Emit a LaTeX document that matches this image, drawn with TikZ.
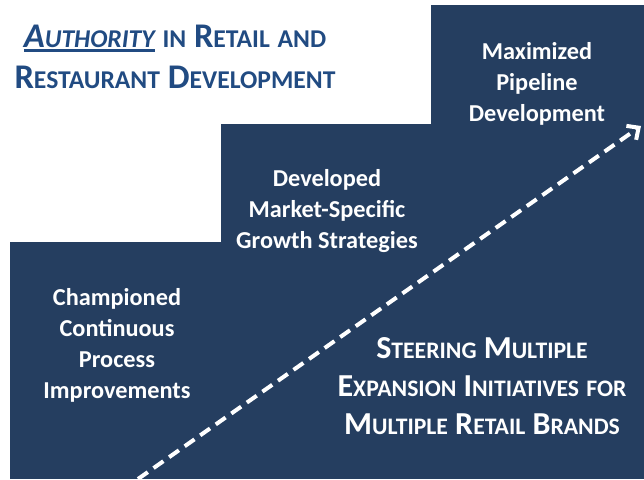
\documentclass[tikz,border=0pt]{standalone}
\usepackage{fontspec}
\setmainfont{Carlito}
\usetikzlibrary{arrows.meta}
\definecolor{stepblue}{RGB}{37,62,96}
\definecolor{titleblue}{RGB}{33,75,130}

% small caps by hand: capitals at about three quarters of the running size
\makeatletter
\newcommand{\smc}[1]{{\fontsize{\fpeval{0.74*\f@size}}{\f@baselineskip}\selectfont #1}}
\makeatother
\newsavebox{\ulbox}
\newcommand{\thickul}[1]{\sbox{\ulbox}{#1}\rlap{\rule[-4pt]{\wd\ulbox}{2.5pt}}\usebox{\ulbox}}

\begin{document}
\begin{tikzpicture}[x=1pt,y=1pt,
  stepbox/.style={fill=stepblue},
  steptext/.style={text=white,align=center,font=\bfseries\fontsize{24.3}{31}\selectfont},
  bigtext/.style={text=white,align=center,font=\bfseries\fontsize{32}{38}\selectfont},
  heading/.style={text=titleblue,align=center,font=\bfseries\fontsize{34.6}{41}\selectfont},
  growth/.style={white,line width=4pt,dash pattern=on 12pt off 7pt,
    -{Straight Barb[length=9pt,width=17pt,line width=4pt]}}]

  \useasboundingbox[fill=white] (0,0) rectangle (644,479);

  % the three steps
  \fill[stepbox] (10,0)  rectangle (644,237);
  \fill[stepbox] (221,0) rectangle (644,355);
  \fill[stepbox] (431,0) rectangle (644,474);

  \node[heading] (title) at (175,422)
    {\thickul{\itshape A\smc{UTHORITY}} \smc{IN} R\smc{ETAIL} \smc{AND}\\
     R\smc{ESTAURANT} D\smc{EVELOPMENT}};

  \node[steptext] (step1) at (117,134) {Championed\\Continuous\\Process\\Improvements};
  \node[steptext] (step2) at (327,268) {Developed\\Market-Specific\\Growth Strategies};
  \node[steptext] (step3) at (537,395) {Maximized\\Pipeline\\Development};

  \node[bigtext] (banner) at (482,93)
    {S\smc{TEERING} M\smc{ULTIPLE}\\
     E\smc{XPANSION} I\smc{NITIATIVES} \smc{FOR}\\
     M\smc{ULTIPLE} R\smc{ETAIL} B\smc{RANDS}};

  \coordinate (base) at (138,0);
  \coordinate (tip)  at (641,353);
  \draw[growth] (base) -- (tip);
\end{tikzpicture}
\end{document}
